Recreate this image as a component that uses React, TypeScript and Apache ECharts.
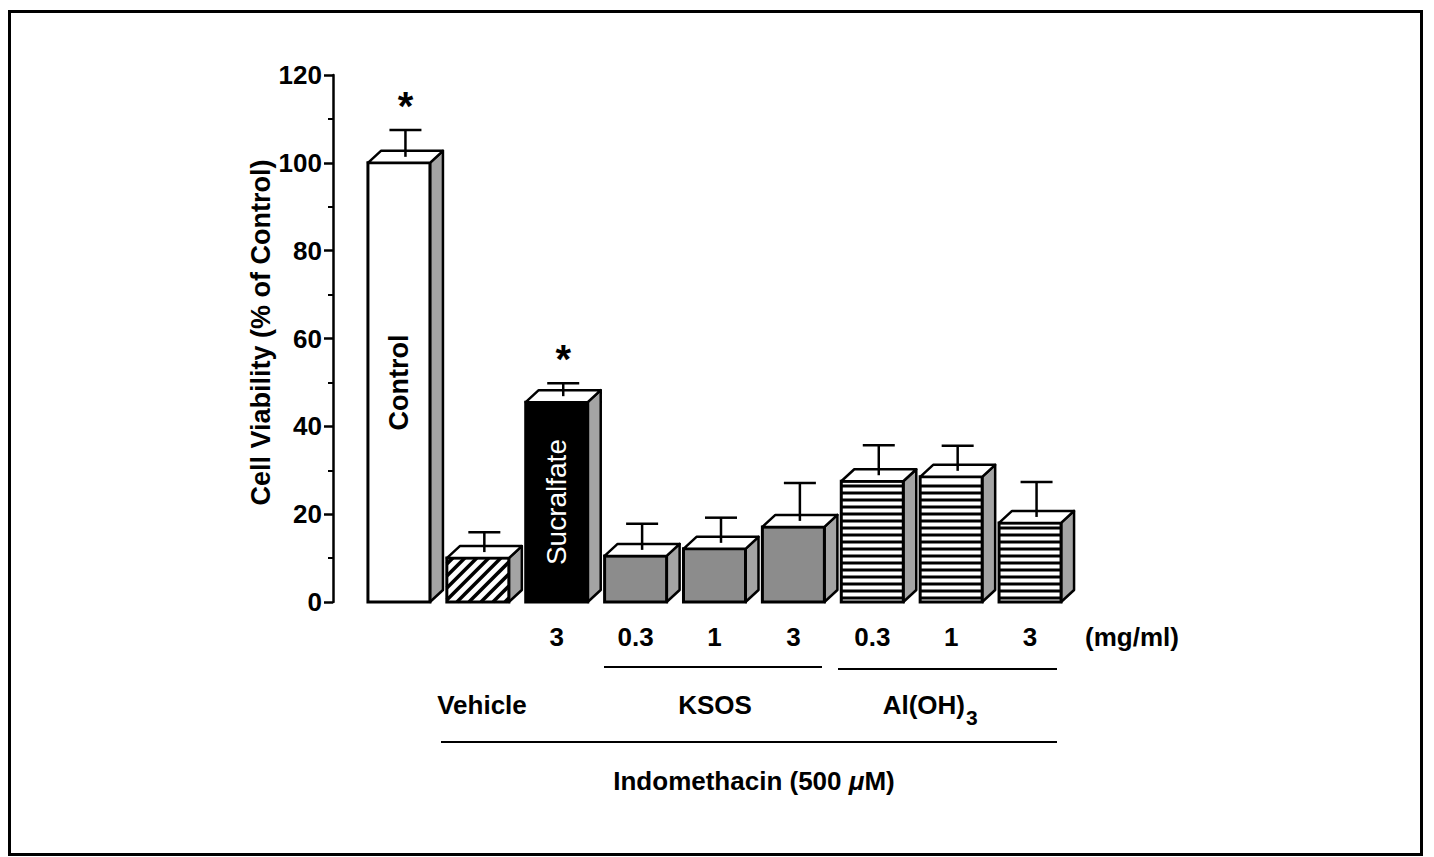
import React, { useEffect, useRef } from "react";
import * as echarts from "echarts";

// ---- data ----
const categories = ["Control", "Vehicle", "Sucralfate 3", "KSOS 0.3", "KSOS 1", "KSOS 3", "Al(OH)3 0.3", "Al(OH)3 1", "Al(OH)3 3"];
const doseLabels = ["", "", "3", "0.3", "1", "3", "0.3", "1", "3"];
const viability = [100, 10, 45.5, 10.5, 12.1, 17.1, 27.5, 28.5, 18];
const sem = [7.5, 5.9, 4.3, 7.3, 7.1, 10, 8.2, 7.1, 9.3];
const fillKinds = ["white", "diagonal", "black", "stipple", "stipple", "stipple", "stripes", "stripes", "stripes"];
const barTexts = ["Control", "", "Sucralfate", "", "", "", "", "", ""];
const significant = [true, false, true, false, false, false, false, false, false];
const yTitle = "Cell Viability (% of Control)";

const FONT = '"Liberation Sans", Arial, Helvetica, sans-serif';

export default function App() {
  const ref = useRef<HTMLDivElement>(null);
  useEffect(() => {
    if (!ref.current) return;
    const chart = echarts.init(ref.current, undefined, { renderer: "svg" });
    const seriesData = categories.map((_, i) => [i, viability[i], sem[i]]);

    const renderItem = (params: any, api: any) => {
      const i = params.dataIndex;
      const idx = api.value(0);
      const v = api.value(1);
      const e = api.value(2);
      const top = api.coord([idx, v]);
      const bot = api.coord([idx, 0]);
      const err = api.coord([idx, v + e]);
      const band = api.size([1, 0])[0];
      const w = band * 0.786;
      const cx = top[0];
      const yTop = top[1];
      const yBot = bot[1];
      const x0 = cx - w / 2;
      const x1 = cx + w / 2;
      const dx = 13;
      const dy = 12;
      const kind = fillKinds[i];
      const children: any[] = [];
      // side face
      children.push({
        type: "polygon",
        shape: { points: [[x1, yTop], [x1 + dx, yTop - dy], [x1 + dx, yBot - dy], [x1, yBot]] },
        style: { fill: "#a4a4a4", stroke: "#000", lineWidth: 2.5, lineJoin: "round" },
      });
      const frontFill = kind === "black" ? "#000" : kind === "stipple" ? "#8c8c8c" : "#fff";
      children.push({
        type: "rect",
        shape: { x: x0, y: yTop, width: w, height: yBot - yTop },
        style: { fill: frontFill, stroke: null },
      });
      if (kind === "diagonal") {
        const h = yBot - yTop;
        const s = 12;
        for (let c = -h + s / 2; c < w; c += s) {
          const uMin = Math.max(0, c);
          const uMax = Math.min(w, h + c);
          if (uMax <= uMin) continue;
          children.push({
            type: "line",
            shape: { x1: x0 + uMin, y1: yBot - (uMin - c), x2: x0 + uMax, y2: yBot - (uMax - c) },
            style: { stroke: "#000", lineWidth: 3.5 },
          });
        }
      }
      if (kind === "stripes") {
        for (let y = yBot - 4; y > yTop + 3; y -= 7) {
          children.push({
            type: "line",
            shape: { x1: x0, y1: y, x2: x1, y2: y },
            style: { stroke: "#000", lineWidth: 3 },
          });
        }
      }
      children.push({
        type: "rect",
        shape: { x: x0, y: yTop, width: w, height: yBot - yTop },
        style: { fill: null, stroke: "#000", lineWidth: 3 },
      });
      // top face
      children.push({
        type: "polygon",
        shape: { points: [[x0, yTop], [x0 + dx, yTop - dy], [x1 + dx, yTop - dy], [x1, yTop]] },
        style: { fill: "#fff", stroke: "#000", lineWidth: 2.5, lineJoin: "round" },
      });
      // error bar
      const sx = cx + dx / 2;
      children.push({
        type: "line",
        shape: { x1: sx, y1: yTop - dy / 2, x2: sx, y2: err[1] },
        style: { stroke: "#000", lineWidth: 2.5 },
      });
      children.push({
        type: "line",
        shape: { x1: sx - 16, y1: err[1], x2: sx + 16, y2: err[1] },
        style: { stroke: "#000", lineWidth: 2.5 },
      });
      if (significant[i]) {
        children.push({
          type: "text",
          x: sx,
          y: err[1] - 24,
          style: {
            text: "*",
            fill: "#000",
            fontSize: 40,
            fontWeight: "bold",
            fontFamily: FONT,
            align: "center",
            verticalAlign: "middle",
          },
        });
      }
      if (barTexts[i]) {
        const isBlack = kind === "black";
        children.push({
          type: "text",
          x: cx,
          y: (yTop + yBot) / 2,
          rotation: Math.PI / 2,
          style: {
            text: barTexts[i],
            fill: isBlack ? "#fff" : "#000",
            fontSize: isBlack ? 28 : 27,
            fontWeight: isBlack ? "normal" : "bold",
            fontFamily: FONT,
            align: "center",
            verticalAlign: "middle",
          },
        });
      }
      return { type: "group", children };
    };

    const txt = (text: string, x: number, y: number, size = 26, extra: any = {}) => ({
      type: "text",
      x,
      y,
      style: {
        text,
        fill: "#000",
        fontSize: size,
        fontWeight: "bold",
        fontFamily: FONT,
        align: "center",
        verticalAlign: "middle",
        ...extra,
      },
    });
    const hline = (xa: number, xb: number, y: number) => ({
      type: "line",
      shape: { x1: xa, y1: y, x2: xb, y2: y },
      style: { stroke: "#000", lineWidth: 2 },
    });

    chart.setOption({
      animation: false,
      backgroundColor: "#fff",
      grid: { left: 359.5, right: 364.5, top: 75, bottom: 255 },
      xAxis: {
        type: "category",
        data: doseLabels,
        axisLine: { show: false },
        axisTick: { show: false },
        axisLabel: {
          interval: 0,
          color: "#000",
          fontSize: 26,
          fontWeight: "bold",
          fontFamily: FONT,
          margin: 22,
        },
      },
      yAxis: {
        type: "value",
        min: 0,
        max: 120,
        interval: 20,
        offset: 26.5,
        name: yTitle,
        nameLocation: "middle",
        nameRotate: 90,
        nameGap: 58,
        nameTextStyle: { color: "#000", fontSize: 27, fontWeight: "bold", fontFamily: FONT, padding: [0, 0, 0, 12] },
        axisLine: { show: true, lineStyle: { color: "#000", width: 2.5 } },
        axisTick: { show: true, length: 9, lineStyle: { color: "#000", width: 2.5 } },
        minorTick: { show: true, splitNumber: 2, length: 5, lineStyle: { color: "#000", width: 2 } },
        splitLine: { show: false },
        axisLabel: { color: "#000", fontSize: 26, fontWeight: "bold", fontFamily: FONT, margin: 11 },
      },
      series: [
        {
          type: "custom",
          renderItem,
          data: seriesData,
          encode: { x: 0, y: 1 },
          clip: false,
        },
      ],
      graphic: [
        {
          type: "rect",
          shape: { x: 9.5, y: 11.5, width: 1412, height: 843 },
          style: { fill: null, stroke: "#000", lineWidth: 3 },
          z: 0,
        },
        txt("(mg/ml)", 1132, 637),
        hline(604, 822, 667),
        hline(838, 1057, 669),
        txt("Vehicle", 482, 705),
        txt("KSOS", 715, 705),
        txt("Al(OH)", 965, 705, 26, { align: "right" }),
        txt("3", 966, 717, 21, { align: "left" }),
        hline(441, 1057, 742),
        {
          type: "text",
          x: 754,
          y: 781,
          style: {
            text: "{b|Indomethacin (500 }{i|μ}{b|M)}",
            align: "center",
            verticalAlign: "middle",
            rich: {
              b: { fontSize: 26, fontWeight: "bold", fontFamily: FONT, fill: "#000" },
              i: { fontSize: 26, fontWeight: "bold", fontStyle: "italic", fontFamily: FONT, fill: "#000" },
            },
          },
        },
      ],
    });
    return () => chart.dispose();
  }, []);
  return (
    <div
      ref={ref}
      style={{ position: "absolute", left: 0, top: 0, width: 1434, height: 857, background: "#fff" }}
    />
  );
}
